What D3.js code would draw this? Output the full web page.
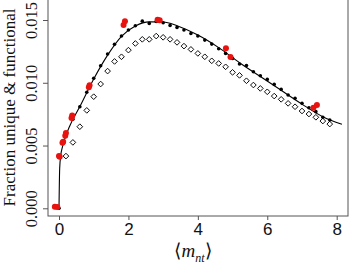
<!DOCTYPE html>
<html>
<head>
<meta charset="utf-8">
<script src="https://cdn.jsdelivr.net/npm/d3@7"></script>
<style>
  html, body { margin: 0; padding: 0; background: #fff; }
  svg { display: block; }
</style>
</head>
<body>
<svg id="chart"></svg>
<script>
// Fraction unique & functional vs <m_nt>

const W = 353, H = 275;

// black filled dots (simulation)
const simX = [0, 0.2, 0.4, 0.6, 0.8, 1.0, 1.2, 1.4, 1.6, 1.8, 2.0, 2.2, 2.4, 2.6, 2.8, 3.0,
  3.2, 3.4, 3.6, 3.8, 4.0, 4.2, 4.4, 4.6, 4.8, 5.0, 5.2, 5.4, 5.6, 5.8, 6.0, 6.2, 6.4,
  6.6, 6.8, 7.0, 7.2, 7.4, 7.6, 7.8];
const simY = [0, 0.0059, 0.0071, 0.00809, 0.00924, 0.01035, 0.01135, 0.01229, 0.01306,
  0.01372, 0.0142, 0.01454, 0.01491, 0.01473, 0.01488, 0.01478, 0.01457, 0.01441, 0.0142,
  0.01393, 0.01372, 0.0134, 0.01308, 0.01271, 0.01234, 0.01194, 0.01149, 0.01138, 0.01088,
  0.01056, 0.01027, 0.00987, 0.00947, 0.00902, 0.00876, 0.00836, 0.00801, 0.0077, 0.00725,
  0.00703];

// open diamonds
const diaX = [0.2, 0.4, 0.6, 0.8, 1.0, 1.2, 1.4, 1.6, 1.8, 2.0, 2.2, 2.4, 2.6, 2.8, 3.0,
  3.2, 3.4, 3.6, 3.8, 4.0, 4.2, 4.4, 4.6, 4.8, 5.0, 5.2, 5.4, 5.6, 5.8, 6.0, 6.2, 6.4,
  6.6, 6.8, 7.0, 7.2, 7.4, 7.6, 7.8];
const diaY = [0.00416, 0.00525, 0.0065, 0.0078, 0.00889, 0.0099, 0.01093, 0.0117, 0.01207,
  0.0126, 0.01313, 0.01346, 0.01346, 0.01372, 0.01362, 0.01346, 0.01322, 0.01292, 0.01266,
  0.01234, 0.01207, 0.01175, 0.01154, 0.01127, 0.01083, 0.01059, 0.01016, 0.00982, 0.00955,
  0.00928, 0.00894, 0.00868, 0.00836, 0.00809, 0.00775, 0.00751, 0.00725, 0.00695, 0.00671];

// red dots (data)
const redX = [-0.12, -0.05, 0.0, 0.02, 0.1, 0.12, 0.18, 0.2, 0.36, 0.38, 0.86, 0.88,
  1.86, 1.9, 2.84, 2.9, 4.81, 4.94, 7.33, 7.43];
const redY = [0.00013, 0.0001, 0.00416, 0.0041, 0.00522, 0.0053, 0.00578, 0.006, 0.0072,
  0.0074, 0.00965, 0.0098, 0.0146, 0.0149, 0.01502, 0.01498, 0.01274, 0.01205, 0.00801,
  0.00823];

// fitted curve
const fitX = [0, 0.02, 0.05, 0.1, 0.15, 0.3, 0.6, 1.0, 1.4, 1.8, 2.2, 2.6, 3.0, 3.4, 4.0,
  4.6, 5.2, 5.8, 6.4, 7.0, 7.6, 8.15];
const fitY = [0, 0.0032, 0.0042, 0.0049, 0.0054, 0.0065, 0.0081, 0.0103, 0.0122, 0.0137,
  0.01452, 0.01485, 0.01484, 0.01455, 0.0138, 0.0128, 0.0116, 0.0105, 0.0094, 0.0083,
  0.0073, 0.0067];

const xTicks = [0, 2, 4, 6, 8];
const yTicks = [0, 0.005, 0.010, 0.015];

const box = { left: 48, right: 348, top: -2, bottom: 216 };
const AXIS = "#555";
const RED = "#e8120f";

const svg = d3.select("#chart").attr("width", W).attr("height", H);

const x = d3.scaleLinear().domain([0, 8]).range([59, 336.7]);
const y = d3.scaleLinear().domain([0, 0.015]).range([208.3, 20]);

// plot box
svg.append("rect")
  .attr("x", box.left).attr("y", box.top)
  .attr("width", box.right - box.left).attr("height", box.bottom - box.top)
  .attr("fill", "none").attr("stroke", AXIS).attr("stroke-width", 1);

// X axis
const gx = svg.append("g")
  .attr("transform", `translate(0,${box.bottom})`)
  .call(d3.axisBottom(x).tickValues(xTicks).tickSize(4).tickPadding(3).tickFormat(d3.format("d")));
gx.select(".domain").remove();
gx.selectAll("line").attr("stroke", AXIS);
gx.selectAll("text")
  .attr("font-family", "Liberation Sans, Arial, sans-serif")
  .attr("font-size", 17).attr("fill", "#111");

// Y axis
const gy = svg.append("g")
  .attr("transform", `translate(${box.left},0)`)
  .call(d3.axisLeft(y).tickValues(yTicks).tickSize(5).tickFormat(d3.format(".3f")));
gy.select(".domain").remove();
gy.selectAll("line").attr("stroke", AXIS);
gy.selectAll("text")
  .attr("x", null).attr("dy", null)
  .attr("transform", "translate(-11,0) rotate(-90)")
  .attr("text-anchor", "middle")
  .attr("font-family", "Liberation Serif, Times New Roman, serif")
  .attr("font-size", 16.5).attr("fill", "#111");

// axis titles
svg.append("text")
  .attr("transform", "translate(14.5,107.5) rotate(-90)")
  .attr("text-anchor", "middle")
  .attr("font-family", "Liberation Serif, Times New Roman, serif")
  .attr("font-size", 17).attr("fill", "#111")
  .text("Fraction unique & functional");

const xt = svg.append("text")
  .attr("x", 193).attr("y", 257)
  .attr("text-anchor", "middle")
  .attr("font-family", "Liberation Serif, Times New Roman, serif")
  .attr("font-size", 19).attr("fill", "#111");
xt.append("tspan").text("\u27E8");
xt.append("tspan").attr("font-style", "italic").text("m");
xt.append("tspan").attr("font-style", "italic").attr("font-size", 12).attr("dy", 5).text("nt");
xt.append("tspan").attr("dy", -5).text("\u27E9");

// fitted line
svg.append("path")
  .datum(fitX.map((v, i) => [v, fitY[i]]))
  .attr("fill", "none").attr("stroke", "#000").attr("stroke-width", 1.1)
  .attr("d", d3.line().x(d => x(d[0])).y(d => y(d[1])).curve(d3.curveMonotoneX));

// open diamonds
const diamond = d3.symbol().type(d3.symbolSquare).size(16);
svg.append("g").selectAll("path")
  .data(diaX.map((v, i) => [v, diaY[i]]))
  .join("path")
  .attr("transform", d => `translate(${x(d[0])},${y(d[1])}) rotate(45)`)
  .attr("d", diamond)
  .attr("fill", "#fff").attr("stroke", "#000").attr("stroke-width", 0.9);

// black dots
svg.append("g").selectAll("circle")
  .data(simX.map((v, i) => [v, simY[i]]))
  .join("circle")
  .attr("cx", d => x(d[0])).attr("cy", d => y(d[1]))
  .attr("r", 1.8).attr("fill", "#000");

// red dots
svg.append("g").selectAll("circle")
  .data(redX.map((v, i) => [v, redY[i]]))
  .join("circle")
  .attr("cx", d => x(d[0])).attr("cy", d => y(d[1]))
  .attr("r", 3).attr("fill", RED);
</script>
</body>
</html>
